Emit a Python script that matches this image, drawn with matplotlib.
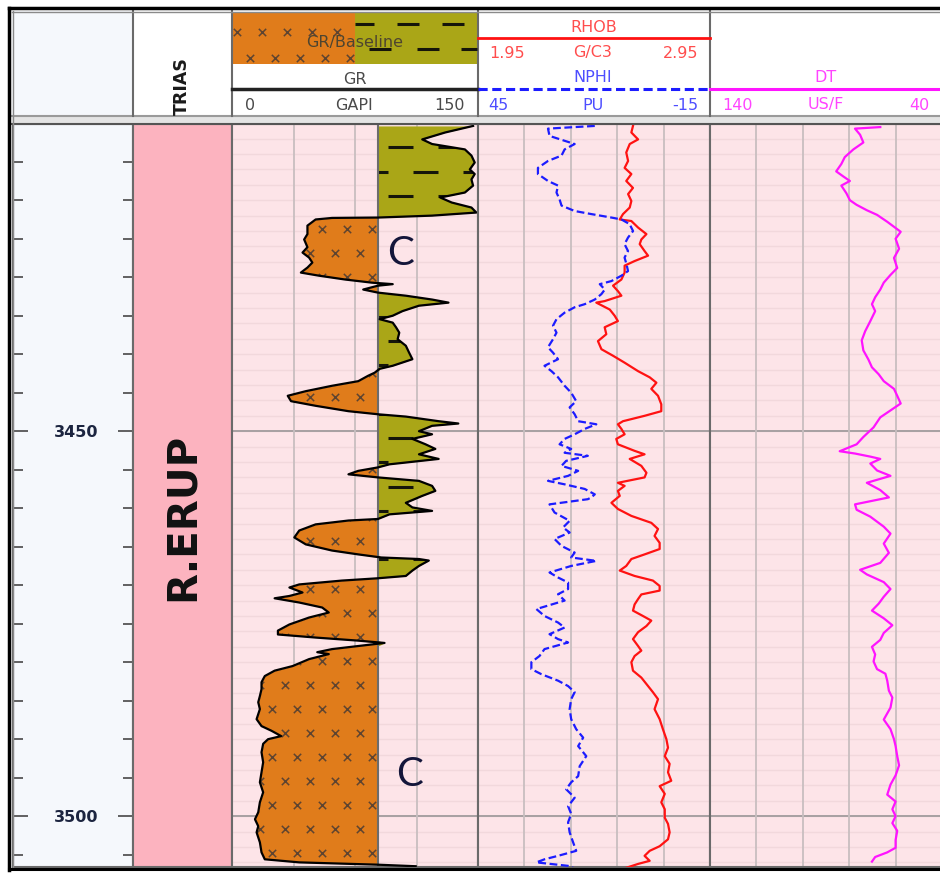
import numpy as np
import matplotlib
matplotlib.use('Agg')
import matplotlib.pyplot as plt
from matplotlib.path import Path
from matplotlib.patches import Rectangle

# depth window of the panel (m)
top_depth = 3410.1
base_depth = 3506.6
depth_labels = [3450, 3500]

system_name = 'TRIAS'
formation_name = 'R.ERUP'

# gamma ray, GAPI
gr_depth = [3410.35, 3411.2, 3412.1, 3412.7, 3413.4, 3414.2, 3415.1, 3416.0, 3416.6, 3417.3,
            3418.1, 3419.0, 3419.65, 3420.3, 3420.95, 3421.6, 3422.0, 3422.25, 3422.3, 3422.5,
            3423.3, 3424.4, 3425.1, 3426.1, 3426.8, 3427.45, 3428.1, 3428.75, 3429.4, 3429.8,
            3430.3, 3430.7, 3430.9, 3431.1, 3431.6, 3432.0, 3432.4, 3432.9, 3433.3, 3433.7,
            3434.4, 3435.0, 3435.45, 3435.9, 3436.5, 3437.2, 3438.05, 3438.9, 3439.8, 3440.65,
            3441.5, 3441.9, 3442.4, 3442.8, 3443.5, 3444.1, 3444.8, 3445.4, 3446.1, 3446.7,
            3447.4, 3447.8, 3448.1, 3448.7, 3449.0, 3449.3, 3450.0, 3450.4, 3451.0, 3451.7,
            3452.3, 3453.0, 3453.6, 3454.3, 3454.7, 3455.15, 3455.6, 3456.0, 3456.45, 3457.1,
            3457.75, 3458.4, 3459.3, 3459.9, 3460.35, 3460.8, 3461.4, 3461.6, 3462.1, 3462.9,
            3463.8, 3464.7, 3465.5, 3466.0, 3466.4, 3466.6, 3466.8, 3467.5, 3468.1, 3468.8,
            3469.1, 3469.4, 3469.9, 3470.3, 3470.95, 3471.4, 3471.7, 3472.25, 3472.9, 3473.55,
            3474.2, 3475.1, 3475.9, 3476.4, 3476.8, 3477.2, 3477.5, 3477.9, 3478.3, 3478.7,
            3478.95, 3479.6, 3480.5, 3481.1, 3481.8, 3482.6, 3483.5, 3484.4, 3485.2, 3486.1,
            3487.4, 3488.3, 3488.9, 3489.6, 3490.0, 3490.6, 3491.7, 3493.0, 3494.3, 3495.6,
            3496.9, 3498.2, 3499.5, 3500.4, 3501.3, 3502.1, 3503.4, 3504.7, 3505.6, 3506.0,
            3506.3, 3506.5]
gr_value = [147, 130, 116, 122, 142, 146, 148, 145, 148, 146,
            147, 142, 127, 134, 146, 149, 122, 89, 61, 51,
            46, 46, 44, 46, 43, 47, 49, 46, 42, 53,
            69, 85, 98, 89, 80, 89, 106, 122, 132, 114,
            104, 98, 90, 98, 100, 102, 101, 106, 108, 110,
            98, 90, 87, 83, 77, 61, 45, 34, 36, 51,
            71, 89, 106, 126, 138, 122, 114, 122, 110, 118,
            124, 114, 126, 96, 89, 77, 71, 89, 114, 122,
            124, 116, 106, 110, 122, 96, 89, 71, 51, 41,
            38, 45, 61, 77, 91, 114, 120, 114, 110, 106,
            89, 67, 41, 35, 43, 35, 26, 41, 55, 59,
            47, 35, 28, 28, 51, 77, 93, 77, 61, 52,
            59, 47, 37, 26, 20, 18, 18, 17, 16, 17,
            15, 18, 24, 30, 22, 19, 18, 19, 18, 17,
            19, 17, 16, 14, 16, 15, 17, 18, 20, 41,
            89, 112]
gr_baseline = 89.0

# neutron porosity, PU
nphi_depth = [3410.35, 3410.7, 3411.65, 3412.7, 3413.4, 3414.2, 3414.9, 3415.8, 3416.6, 3417.5,
              3418.1, 3419.0, 3419.9, 3420.7, 3421.4, 3421.8, 3422.25, 3422.5, 3423.1, 3424.0,
              3424.85, 3425.7, 3426.6, 3427.45, 3428.3, 3429.2, 3429.8, 3430.5, 3430.9, 3431.6,
              3432.2, 3432.9, 3433.5, 3433.9, 3434.6, 3435.45, 3436.3, 3437.2, 3438.05, 3439.1,
              3439.8, 3440.65, 3441.5, 3442.2, 3443.0, 3444.1, 3445.0, 3446.1, 3446.9, 3447.8,
              3448.7, 3449.1, 3449.7, 3450.4, 3451.0, 3451.7, 3452.3, 3452.8, 3453.2, 3453.85,
              3454.5, 3455.15, 3455.8, 3456.45, 3456.9, 3457.5, 3458.2, 3458.6,
              3458.83, 3459.5, 3460.56, 3461.64, 3462.5, 3463.16, 3464.0, 3464.9, 3465.76, 3466.4,
              3466.84, 3467.5, 3468.35, 3469.0, 3469.65, 3470.5, 3471.17, 3472.0, 3473.1, 3474.0,
              3474.85, 3475.5, 3476.36, 3477.0, 3477.44, 3478.3, 3479.2, 3480.0, 3480.9, 3481.56,
              3482.4, 3483.1, 3483.9, 3484.8, 3486.1, 3487.4, 3488.7, 3489.8, 3490.9, 3492.2,
              3493.5, 3494.8, 3495.6, 3496.5, 3497.6, 3498.7, 3499.7, 3500.8, 3502.1, 3503.4,
              3504.5, 3505.15, 3505.6, 3506.0, 3506.45, 3506.8]
nphi_value = [14.8, 26.9, 26.5, 20.0, 22.6, 23.4, 26.9, 29.5, 29.5, 26.9,
              24.3, 24.7, 23.9, 23.4, 20.0, 15.7, 10.5, 7.9, 5.8, 4.9,
              6.2, 7.1, 6.2, 7.1, 6.6, 6.2, 7.9, 10.5, 13.5, 12.2,
              13.1, 14.8, 17.4, 20.0, 22.6, 24.7, 25.6, 24.7, 25.6, 26.9,
              25.6, 24.3, 27.8, 26.0, 24.3, 22.6, 20.9, 19.6, 21.3, 20.0,
              19.1, 14.4, 17.4, 20.0, 22.6, 23.9, 20.9, 22.6, 16.6, 22.2,
              23.4, 19.1, 21.7, 26.9, 22.6, 17.4, 14.8, 15.7,
              16.6, 26.5, 25.2, 21.3, 23.0, 21.3, 25.2, 23.4, 20.0, 20.9,
              14.4, 20.9, 26.5, 24.3, 21.7, 21.7, 24.3, 22.6, 29.9, 27.8,
              24.3, 22.6, 26.5, 24.3, 21.7, 27.8, 29.1, 31.2, 31.2, 28.6,
              24.3, 21.7, 20.0, 20.9, 21.3, 20.9, 19.6, 17.8, 19.1, 17.0,
              18.7, 19.1, 20.9, 22.2, 20.0, 21.7, 20.9, 21.7, 21.3, 20.4,
              19.6, 24.3, 27.8, 29.9, 21.7, 20.0]

# bulk density, G/C3
rhob_depth = [3410.35, 3411.2, 3412.1, 3412.7, 3413.8, 3414.9, 3415.8, 3416.6, 3417.5, 3418.4,
              3419.2, 3420.1, 3420.95, 3421.8, 3422.5, 3422.7, 3423.55, 3424.4, 3425.1, 3425.7,
              3426.6, 3427.2, 3427.9, 3428.5, 3429.4, 3430.3, 3431.1, 3431.8, 3432.4, 3433.1,
              3433.3, 3434.2, 3435.0, 3435.7, 3436.5, 3437.4, 3438.3, 3439.35, 3440.2, 3441.1,
              3442.2, 3443.0, 3443.7, 3444.5, 3445.4, 3446.5, 3447.4, 3448.0, 3448.7, 3449.1,
              3449.7, 3450.4, 3451.0, 3451.7, 3452.55, 3453.0, 3453.6, 3454.5, 3455.4, 3456.0,
              3456.7, 3457.1, 3457.75, 3458.4,
              3459.3, 3460.1, 3461.0, 3461.9, 3462.7, 3463.6, 3464.5, 3465.3, 3466.0, 3466.6,
              3467.5, 3468.1, 3468.8, 3469.4, 3470.1, 3470.7, 3471.2, 3471.8, 3472.5, 3473.3,
              3474.0, 3474.6, 3475.3, 3476.1, 3477.0, 3477.9, 3478.5, 3479.2, 3480.0, 3481.1,
              3482.0, 3483.1, 3483.9, 3484.8, 3486.1, 3487.4, 3488.7, 3490.0, 3491.1, 3492.2,
              3493.2, 3494.3, 3495.4, 3496.1, 3497.1, 3498.2, 3499.1, 3500.2, 3501.0, 3502.1,
              3503.0, 3503.9, 3504.5, 3505.15, 3505.8, 3506.2, 3506.7]
rhob_value = [2.618, 2.611, 2.640, 2.604, 2.589, 2.597, 2.582, 2.611, 2.589, 2.618,
              2.597, 2.611, 2.604, 2.575, 2.561, 2.611, 2.640, 2.676, 2.654, 2.647,
              2.668, 2.683, 2.625, 2.582, 2.582, 2.568, 2.532, 2.553, 2.568, 2.496,
              2.460, 2.518, 2.539, 2.553, 2.496, 2.503, 2.467, 2.482, 2.532, 2.582,
              2.640, 2.690, 2.719, 2.697, 2.726, 2.740, 2.740, 2.668, 2.575, 2.553,
              2.568, 2.582, 2.546, 2.553, 2.625, 2.668, 2.604, 2.654, 2.676, 2.668,
              2.553, 2.582, 2.553, 2.561,
              2.525, 2.553, 2.611, 2.697, 2.726, 2.711, 2.733, 2.733, 2.668, 2.611,
              2.589, 2.561, 2.625, 2.704, 2.733, 2.733, 2.654, 2.640, 2.625, 2.618,
              2.661, 2.697, 2.676, 2.640, 2.618, 2.640, 2.654, 2.625, 2.611, 2.618,
              2.654, 2.683, 2.704, 2.726, 2.711, 2.733, 2.747, 2.762, 2.769, 2.755,
              2.776, 2.769, 2.783, 2.733, 2.755, 2.740, 2.755, 2.755, 2.769, 2.776,
              2.769, 2.733, 2.690, 2.668, 2.690, 2.640, 2.589]

# sonic, US/F
dt_depth = [3410.5, 3410.7, 3411.5, 3412.5, 3413.4, 3414.4, 3415.3, 3416.25, 3416.9, 3417.5,
            3418.1, 3419.1, 3420.0, 3420.6, 3421.3, 3421.9, 3422.8, 3424.1, 3425.0, 3426.3,
            3427.5, 3428.8, 3429.7, 3430.7, 3431.6, 3432.6, 3433.5, 3434.4, 3435.7, 3437.0,
            3438.2, 3439.5, 3440.7, 3441.7, 3442.6, 3443.5, 3444.5, 3445.4, 3446.4, 3447.3,
            3448.2, 3449.5, 3450.75, 3451.7, 3452.6, 3452.9, 3453.3, 3453.6, 3454.2, 3455.1,
            3455.8, 3456.7, 3457.65, 3458.6, 3459.5, 3460.2, 3461.1, 3462.4, 3463.3, 3464.6,
            3465.8, 3467.1, 3468.0, 3468.6, 3469.6, 3470.5, 3471.5, 3472.4, 3473.3, 3474.3,
            3475.2, 3476.2, 3477.1, 3478.0, 3479.0, 3479.9, 3480.9, 3481.5, 3482.4, 3483.7,
            3484.6, 3485.9, 3487.45, 3488.7, 3490.0, 3490.9, 3492.2, 3493.4, 3494.7, 3495.9,
            3497.2, 3498.1, 3499.1, 3500.0, 3500.9, 3501.9, 3503.1, 3504.1, 3504.7, 3505.3,
            3505.9]
dt_value = [66.6, 77.5, 75.3, 73.9, 78.2, 81.9, 83.4, 85.6, 82.6, 79.7,
            83.4, 81.2, 79.7, 76.8, 72.4, 68.0, 63.6, 57.8, 60.0, 58.5,
            60.7, 59.3, 62.2, 65.1, 66.6, 68.8, 70.2, 68.8, 70.9, 73.1,
            74.6, 73.9, 71.7, 70.2, 67.3, 65.1, 60.7, 59.3, 57.8, 62.2,
            66.6, 69.5, 73.9, 76.8, 84.1, 77.5, 70.9, 66.6, 70.9, 68.0,
            62.2, 72.4, 66.6, 62.9, 77.5, 76.8, 70.9, 65.1, 62.2, 65.1,
            62.9, 66.6, 75.3, 72.4, 65.1, 62.2, 65.1, 67.3, 70.2, 65.1,
            61.4, 65.1, 66.6, 70.2, 68.8, 69.5, 68.0, 64.4, 63.6, 62.9,
            61.4, 62.2, 65.1, 62.2, 60.7, 60.0, 59.3, 58.5, 60.0, 62.2,
            63.6, 60.0, 61.4, 60.0, 61.4, 59.3, 60.0, 60.0, 63.6, 68.8,
            70.2]

# core intervals flagged with a "C" (GR position, depth)
core_marks = [(103, 3426.75), (108.5, 3494.5)]

W, H = 940, 878
BODY_TOP, BODY_BOT = 125, 868
PX_PER_M = 7.7

track_bg = '#fde4e8'
sand_color = '#e07c1b'
shale_color = '#aaa617'
sep_color = '#6a6a6a'

fig = plt.figure(figsize=(W / 100, H / 100), dpi=100)


def panel(x0, y0, x1, y1, **kw):
    # axes placed by pixel box (left, top, right, bottom)
    return fig.add_axes([x0 / W, 1 - y1 / H, (x1 - x0) / W, (y1 - y0) / H], **kw)


def log_track(x0, x1, xlim, grid_x):
    ax = panel(x0, BODY_TOP, x1, BODY_BOT)
    ax.set_facecolor(track_bg)
    ax.set_xlim(*xlim)
    ax.set_ylim(base_depth, top_depth)
    ax.set_xticks([])
    ax.set_yticks([])
    for d in np.arange(3412, base_depth, 2):
        ax.axhline(d, color='#f2d8dc', lw=1.0, zorder=0.2)
    for d in depth_labels:
        ax.axhline(d, color='#a7a0a2', lw=1.4, zorder=0.4)
    for gx in grid_x:
        ax.axvline(gx, color='#c8bec0', lw=1.3, zorder=0.4)
    for s in ax.spines.values():
        s.set_color(sep_color)
        s.set_linewidth(1.5)
    return ax


# depth column
ax_depth = panel(13, BODY_TOP, 133, BODY_BOT)
ax_depth.set_facecolor('#f5f8fc')
ax_depth.set_xlim(0, 1)
ax_depth.set_ylim(base_depth, top_depth)
ax_depth.set_xticks([])
ax_depth.set_yticks(depth_labels)
ax_depth.set_yticks(np.arange(3415, base_depth, 5), minor=True)
ax_depth.tick_params(axis='y', which='both', direction='in', left=True, right=True,
                     labelleft=False, color='#555555', width=1.3)
ax_depth.tick_params(axis='y', which='major', length=11)
ax_depth.tick_params(axis='y', which='minor', length=7)
for s in ax_depth.spines.values():
    s.set_color(sep_color)
    s.set_linewidth(1.5)
for d in depth_labels:
    ax_depth.text(0.53, d, str(d), ha='center', va='center', fontsize=11.5,
                  fontweight='bold', color='#1c2540')

# formation column
ax_form = panel(133, BODY_TOP, 232, BODY_BOT)
ax_form.set_facecolor('#fcb3bf')
ax_form.set_xticks([])
ax_form.set_yticks([])
for s in ax_form.spines.values():
    s.set_color(sep_color)
    s.set_linewidth(1.5)
ax_form.text(0.5, 0.472, formation_name, rotation=90, ha='center', va='center',
             fontsize=29, fontweight='bold', color='#111111', transform=ax_form.transAxes)

# gamma ray track with baseline shading
ax_gr = log_track(232, 478, (0, 150), [37.5, 75, 112.5])
gd = np.array(gr_depth)
gv = np.array(gr_value)
sand = ax_gr.fill_betweenx(gd, gr_baseline, np.minimum(gv, gr_baseline),
                           color=sand_color, lw=0, zorder=1)
shale = ax_gr.fill_betweenx(gd, gr_baseline, np.maximum(gv, gr_baseline),
                            color=shale_color, lw=0, zorder=1)
sand_clip = Path.make_compound_path(*sand.get_paths())
shale_clip = Path.make_compound_path(*shale.get_paths())

# sandstone crosses, staggered rows every 24 px
row_step = 24 / PX_PER_M
col_step = 25 / 246 * 150
mx, my = [], []
for i, d in enumerate(np.arange(3423.77 - 6 * row_step, base_depth + 1, row_step)):
    start = 85.4 - (col_step / 2 if i % 2 else 0)
    for x in np.arange(start, 0, -col_step):
        mx.append(x)
        my.append(d)
crosses = ax_gr.scatter(mx, my, marker='x', s=28, c='#5e4430', linewidths=1.1, zorder=2)
crosses.set_clip_path(sand_clip, ax_gr.transData)

# shale dashes
dash_step = 24.25 / PX_PER_M
half = 12.5 / 246 * 150
period = 50 / 246 * 150
dy, dx0, dx1 = [], [], []
for i, d in enumerate(np.arange(3413.12, base_depth + 1, dash_step)):
    start = 103.0 - (period / 2 if i % 2 else 0) - period
    for c in np.arange(start, 160, period):
        dy.append(d)
        dx0.append(c - half)
        dx1.append(c + half)
dashes = ax_gr.hlines(dy, dx0, dx1, colors='#15150a', lw=2.2, zorder=2)
dashes.set_clip_path(shale_clip, ax_gr.transData)

ax_gr.axvline(gr_baseline, color='#6c6c6c', lw=1.5, zorder=2.5)
ax_gr.plot(gv, gd, color='black', lw=1.6, zorder=3)
for x, d in core_marks:
    ax_gr.text(x, d, 'C', ha='center', va='center', fontsize=29, family='Lato',
               color='#14163a', zorder=4)

# density / neutron track
ax_nd = log_track(478, 710, (1.95, 2.95), [2.15, 2.35, 2.55, 2.75])
ax_nd.plot(rhob_value, rhob_depth, color='#ff1212', lw=1.6, zorder=3)
ax_np = ax_nd.twiny()
ax_np.set_xlim(45, -15)
ax_np.set_xticks([])
for s in ax_np.spines.values():
    s.set_visible(False)
ax_np.plot(nphi_value, nphi_depth, color='#1c1cff', lw=1.6, dashes=(3.5, 1.6), zorder=3)

# sonic track (runs past the right edge)
ax_dt = log_track(710, 942, (140, 40), [120, 100, 80, 60])
ax_dt.plot(dt_value, dt_depth, color='#ff14ff', lw=1.6, zorder=3)

# header and frame, drawn in pixel coordinates
ov = fig.add_axes([0, 0, 1, 1], zorder=5)
ov.set_xlim(0, W)
ov.set_ylim(H, 0)
ov.axis('off')

ov.add_patch(Rectangle((12, 12), 121, 104, color='#f5f8fc', lw=0))
ov.add_patch(Rectangle((12, 116), 935, 9, color='#e4e4e4', lw=0))
ov.plot([12, 947], [116.5, 116.5], color='#9a9a9a', lw=1.5)
ov.plot([12, 947], [124.5, 124.5], color='#555555', lw=1.5)
for x in [133, 232, 478, 710]:
    ov.plot([x, x], [12, 117], color=sep_color, lw=1.5)

hdr_fs = 11.5
txt = '#4a4a4a'

# GR / baseline legend box
ov.add_patch(Rectangle((232, 14), 123, 51, color=sand_color, lw=0))
ov.add_patch(Rectangle((355, 14), 123, 51, color=shale_color, lw=0))
for y, xs in [(33, np.arange(237, 350, 25)), (59, np.arange(250, 355, 25))]:
    ov.scatter(xs, np.full(len(xs), y), marker='x', s=28, c='#5e4430', linewidths=1.1)
for y, cs in [(25, [363, 408, 453]), (50, [380, 428, 472])]:
    for c in cs:
        ov.plot([max(c - 11, 355), min(c + 11, 477)], [y, y], color='#15150a', lw=2.2,
                solid_capstyle='butt')
ov.text(355, 42, 'GR/Baseline', ha='center', va='center', fontsize=hdr_fs, color='#4e4530')
ov.text(355, 79, 'GR', ha='center', va='center', fontsize=hdr_fs, color=txt)
ov.plot([232, 478], [90, 90], color='#222222', lw=2.5)
ov.text(245, 105, '0', ha='left', va='center', fontsize=hdr_fs, color=txt)
ov.text(354, 105, 'GAPI', ha='center', va='center', fontsize=hdr_fs, color=txt)
ov.text(465, 105, '150', ha='right', va='center', fontsize=hdr_fs, color=txt)

# RHOB / NPHI header
red_t, blue_t, mag_t = '#ff4d4d', '#4d4dff', '#ff44ff'
ov.text(594, 28, 'RHOB', ha='center', va='center', fontsize=hdr_fs, color=red_t)
ov.plot([478, 710], [39, 39], color='#ff1212', lw=2)
ov.text(489, 53, '1.95', ha='left', va='center', fontsize=hdr_fs, color=red_t)
ov.text(593, 53, 'G/C3', ha='center', va='center', fontsize=hdr_fs, color=red_t)
ov.text(698, 53, '2.95', ha='right', va='center', fontsize=hdr_fs, color=red_t)
ov.text(593, 78, 'NPHI', ha='center', va='center', fontsize=hdr_fs, color=blue_t)
ov.plot([478, 710], [90, 90], color='#1c1cff', lw=2.2, dashes=(3, 1.5))
ov.text(488, 105, '45', ha='left', va='center', fontsize=hdr_fs, color=blue_t)
ov.text(593, 105, 'PU', ha='center', va='center', fontsize=hdr_fs, color=blue_t)
ov.text(698, 105, '-15', ha='right', va='center', fontsize=hdr_fs, color=blue_t)

# DT header
ov.text(825, 78, 'DT', ha='center', va='center', fontsize=hdr_fs, color=mag_t)
ov.plot([710, 947], [90, 90], color='#ff14ff', lw=2.2)
ov.text(722, 105, '140', ha='left', va='center', fontsize=hdr_fs, color=mag_t)
ov.text(826, 105, 'US/F', ha='center', va='center', fontsize=hdr_fs, color=mag_t)
ov.text(929, 105, '40', ha='right', va='center', fontsize=hdr_fs, color=mag_t)

# system name in the formation header
ov.text(182, 86, system_name, rotation=90, ha='center', va='center', fontsize=12.5,
        fontweight='bold', color='#1a1a1a')

# outer frame
ov.plot([9, 947], [9, 9], color='black', lw=2.5)
ov.plot([12, 947], [12.5, 12.5], color='#8a8a8a', lw=1)
ov.plot([9, 9], [9, 871], color='black', lw=2.5)
ov.plot([12.5, 12.5], [12, 869], color='#8a8a8a', lw=1)
ov.plot([9, 947], [870.5, 870.5], color='black', lw=2.2)

fig.savefig('out.png', dpi=100)
